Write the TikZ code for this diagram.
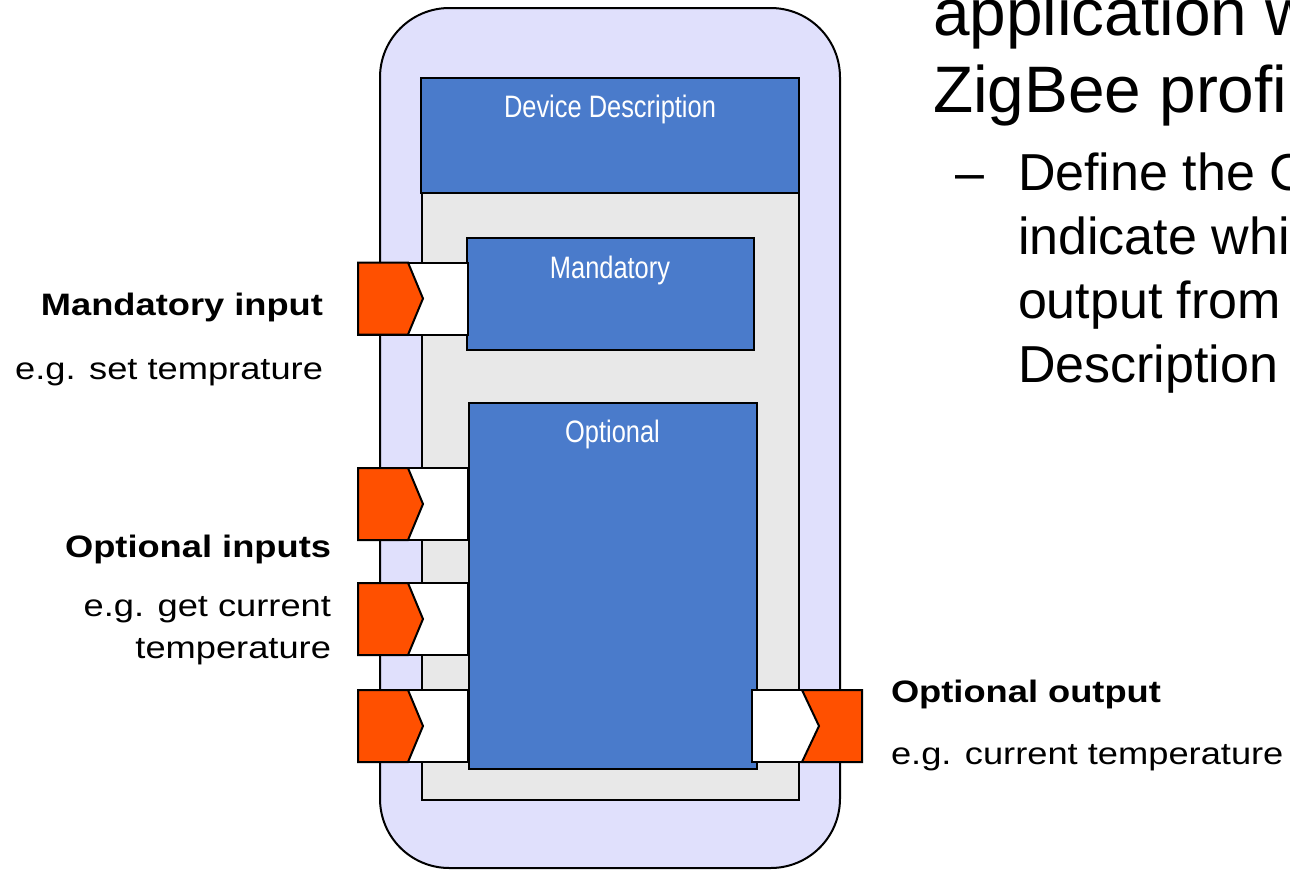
\documentclass[tikz,border=0pt]{standalone}
\usepackage{fontspec}
\setmainfont{Liberation Sans}
\newfontfamily\narrowfont[FakeStretch=0.82]{Liberation Sans}
\newfontfamily\widefont[FakeStretch=1.17]{Liberation Sans}
\usetikzlibrary{calc,positioning}

\newcommand{\pxu}{0.75pt}

\definecolor{devfill}{RGB}{224,224,252}
\definecolor{bodyfill}{RGB}{232,232,232}
\definecolor{blockblue}{RGB}{74,123,203}
\definecolor{portorange}{RGB}{255,80,0}

\tikzset{
    device/.style = {
        draw,
        line width=1.5pt,
        fill = devfill,
        rounded corners=52pt,
        },
    body/.style = {
        draw,
        line width=1.2pt,
        fill = bodyfill,
        },
    block/.style = {
        draw,
        line width=1.5pt,
        fill = blockblue,
        },
    block title/.style = {
        text = white,
        anchor = base,
        font = \narrowfont\fontsize{23.25}{28}\selectfont,
        },
    port/.style = {
        draw,
        line width=1.5pt,
        fill = white,
        minimum width=110*\pxu,
        minimum height=72*\pxu,
        },
    port tip/.style = {
        draw,
        line width=1.5pt,
        fill = portorange,
        },
    port label/.style = {
        font = \widefont\bfseries\fontsize{23.25}{28}\selectfont,
        },
    port note/.style = {
        font = \widefont\fontsize{23.25}{28}\selectfont,
        },
}

\begin{document}
\begin{tikzpicture}[
            x=\pxu, y=-\pxu,
            every node/.append style={inner sep=0pt, outer sep=0pt},
            slide title/.style={anchor=base west, font=\fontsize{49.3}{59}\selectfont},
            slide text/.style={anchor=base west, font=\fontsize{39}{48}\selectfont},
            ]
            \useasboundingbox (0,0) rectangle (1290,869);
            \clip (0,0) rectangle (1290,869);

            % device with its blocks
            \node [device, minimum width=460*\pxu, minimum height=860*\pxu] (dev) at (610,438) {};
            \node [body, minimum width=377*\pxu, minimum height=607*\pxu] (body) at (610.5,496.5) {};
            \node [block, minimum width=378*\pxu, minimum height=115*\pxu] (desc) at (610,135.5) {};
            \node [block, minimum width=287*\pxu, minimum height=112*\pxu] (mand) at (610.5,294) {};
            \node [block, minimum width=288*\pxu, minimum height=366*\pxu] (opt) at (613,586) {};
            \node [block title] (desc-title) at (610,117) {Device Description};
            \node [block title] (mand-title) at (610,278) {Mandatory};
            \node [block title] (opt-title) at (612.5,442) {Optional};

            % ports
            \node [port] (in1) at (413,298.5) {};
            \node [port] (in2) at (413,504) {};
            \node [port] (in3) at (413,619) {};
            \node [port] (in4) at (413,726) {};
            \node [port] (out) at (807,726) {};
            \foreach \p in {in1,in2,in3,in4}
                \draw [port tip] (\p.north west) -- ($(\p.north west)+(50,0)$)
                    -- ($(\p.west)+(65,0)$) -- ($(\p.south west)+(50,0)$)
                    -- (\p.south west) -- cycle;
            \draw [port tip] (out.north east) -- ($(out.north east)+(-60,0)$)
                -- ($(out.east)+(-43,0)$) -- ($(out.south east)+(-60,0)$)
                -- (out.south east) -- cycle;

            % labels
            \node [port label, anchor=base east] (mand-label) at (323,315) {Mandatory input};
            \node [port note, anchor=base east] (mand-note) at (323,379) {e.g. set temprature};
            \node [port label, anchor=base east] (opt-label) at (331,557) {Optional inputs};
            \node [port note, anchor=base east] (opt-note) at (331,616) {e.g. get current};
            \node [port note, anchor=base east] (opt-note2) at (331,658) {temperature};
            \node [port label, anchor=base west] (out-label) at (891,702) {Optional output};
            \node [port note, anchor=base west] (out-note) at (891,764) {e.g. current temperature};

            % slide text
            \node [slide title] (title1) at (933,35) {application w};
            \node [slide title] (title2) at (933,112) {ZigBee profil};
            \node [slide text] (dash) at (955,190) {–};
            \node [slide text] (line1) at (1018,190) {Define the C};
            \node [slide text] (line2) at (1018,254) {indicate whi};
            \node [slide text] (line3) at (1018,318) {output from};
            \node [slide text] (line4) at (1018,382) {Description};
        \end{tikzpicture}
\end{document}
